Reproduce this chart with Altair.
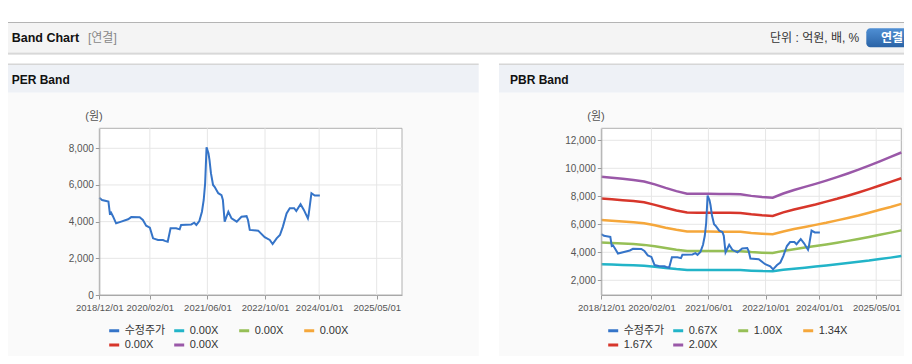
import altair as alt
import pandas as pd

FONT = "'Liberation Sans', 'Noto Sans CJK KR', sans-serif"

# ---------------- data ----------------
price_dates = [
    "2018-12-01", "2018-12-24", "2019-01-28", "2019-02-16", "2019-02-28", "2019-03-10",
    "2019-03-25", "2019-04-22", "2019-06-04", "2019-08-01", "2019-08-28", "2019-11-07",
    "2019-12-04", "2020-01-01", "2020-02-01", "2020-02-28", "2020-04-10", "2020-05-22",
    "2020-06-07", "2020-07-01", "2020-07-25", "2020-09-10", "2020-10-10", "2020-10-22",
    "2021-01-16", "2021-02-10", "2021-02-28", "2021-03-25", "2021-04-16", "2021-05-01",
    "2021-05-13", "2021-05-25", "2021-06-10", "2021-06-19", "2021-07-01", "2021-07-19",
    "2021-08-01", "2021-09-01", "2021-09-28", "2021-10-10", "2021-10-25", "2021-11-25",
    "2021-12-22", "2022-02-04", "2022-03-16", "2022-04-28", "2022-05-10", "2022-05-25",
    "2022-08-04", "2022-09-28", "2022-11-10", "2022-12-04", "2023-01-07", "2023-02-04",
    "2023-03-01", "2023-04-01", "2023-04-28", "2023-06-04", "2023-06-22", "2023-07-28",
    "2023-08-25", "2023-09-28", "2023-10-04", "2023-10-28", "2023-11-25", "2024-01-07",
]
price_values = [
    5300, 5180, 5130, 5100, 4450, 4500,
    4310, 3910, 4000, 4130, 4250, 4240,
    4090, 3780, 3670, 3090, 3000, 3000,
    2950, 2900, 3640, 3640, 3580, 3820,
    3850, 3940, 3820, 4030, 4540, 5180,
    6090, 8050, 7730, 7360, 6640, 6000,
    5900, 5550, 5450, 5180, 4000, 4540,
    4180, 4000, 4270, 4300, 4090, 3550,
    3510, 3150, 3000, 2780, 3090, 3270,
    3730, 4450, 4730, 4730, 4580, 4950,
    4640, 4180, 4360, 5550, 5420, 5420,
]

band_dates = [
    "2018-12-01", "2019-03-01", "2019-06-01", "2019-09-01", "2019-12-01", "2020-03-01",
    "2020-06-01", "2020-09-01", "2020-12-01", "2021-03-01", "2021-06-01", "2021-09-01",
    "2021-12-01", "2022-03-01", "2022-06-01", "2022-09-01", "2022-12-01", "2023-03-01",
    "2023-06-01", "2023-09-01", "2023-12-01", "2024-03-01", "2024-06-01", "2024-09-01",
    "2024-12-01", "2025-03-01", "2025-06-01", "2025-09-01", "2025-12-01",
]
band_067 = [3150, 3130, 3100, 3070, 3040, 2960, 2880, 2800, 2740, 2740, 2740, 2740, 2740, 2730,
            2690, 2660, 2650, 2750, 2830, 2900, 2980, 3060, 3140, 3230, 3320, 3410, 3520, 3620, 3730]
band_100 = [4700, 4665, 4625, 4585, 4530, 4425, 4300, 4185, 4095, 4090, 4090, 4085, 4085, 4075,
            4015, 3975, 3950, 4100, 4225, 4335, 4445, 4560, 4685, 4815, 4950, 5095, 5250, 5405, 5565]
band_134 = [6300, 6250, 6200, 6140, 6070, 5930, 5760, 5610, 5490, 5480, 5480, 5470, 5470, 5460,
            5380, 5330, 5290, 5490, 5660, 5810, 5960, 6110, 6280, 6450, 6630, 6830, 7040, 7240, 7460]
band_167 = [7850, 7790, 7720, 7660, 7570, 7390, 7180, 6990, 6840, 6830, 6830, 6820, 6820, 6810,
            6710, 6640, 6600, 6850, 7060, 7240, 7420, 7620, 7820, 8040, 8270, 8510, 8770, 9030, 9290]
band_200 = [9400, 9330, 9250, 9170, 9060, 8850, 8600, 8370, 8190, 8180, 8180, 8170, 8170, 8150,
            8030, 7950, 7900, 8200, 8450, 8670, 8890, 9120, 9370, 9630, 9900, 10190, 10500, 10810, 11130]

price_label = "수정주가"
pbr_band_labels = ["0.67X", "1.00X", "1.34X", "1.67X", "2.00X"]
per_band_keys = ["per_a", "per_b", "per_c", "per_d", "per_e"]
per_band_text = "0.00X"
series_colors = ["#3574c8", "#22b4c8", "#96bf56", "#f5a73b", "#d7362b", "#9a58a8"]

x_tick_dates = ["2018-12-01", "2020-02-01", "2021-06-01", "2022-10-01", "2024-01-01", "2025-05-01"]
x_domain = ["2018-12-01", "2025-12-01"]
per_y_ticks = [0, 2000, 4000, 6000, 8000]
per_y_domain = [0, 9090]
pbr_y_ticks = [2000, 4000, 6000, 8000, 10000, 12000]
pbr_y_domain = [950, 12857]

# ---------------- layout (chart px) ----------------
W, H = 896, 348
PLOT_TOP, PLOT_BOT = 120.3, 287
PER_L, PER_R = 91.3, 394
PBR_L, PBR_R = 593.3, 893.3


def dt(s):
    y, m, d = map(int, s.split("-"))
    return alt.DateTime(year=y, month=m, date=d, utc=True)


one = pd.DataFrame({"k": [0]})


def rect(x, x2, y, y2, fill, **kw):
    return alt.Chart(one).mark_rect(fill=fill, **kw).encode(
        x=alt.value(x), x2=alt.value(x2), y=alt.value(y), y2=alt.value(y2))


def text(t, x, y, size=12, color="#333333", weight="normal", align="left"):
    return alt.Chart(one).mark_text(
        text=t, align=align, baseline="middle", fontSize=size, color=color,
        fontWeight=weight, font=FONT).encode(x=alt.value(x), y=alt.value(y))


def panel(left, right, y_domain, y_ticks, color_domain, legend_x, label_expr, price_df, band_df=None):
    xs = alt.Scale(type="utc", domain=[dt(x_domain[0]), dt(x_domain[1])], range=[left, right], nice=False)
    ys = alt.Scale(domain=y_domain, range=[PLOT_BOT, PLOT_TOP], nice=False, zero=False)
    cs = alt.Scale(domain=color_domain, range=series_colors)
    x_axis = alt.Axis(orient="bottom", offset=PLOT_BOT - H, values=[dt(d) for d in x_tick_dates],
                      format="%Y/%m/%d", title=None, grid=False, labelFont=FONT, labelFontSize=9.5,
                      labelColor="#555555", tickSize=4, tickColor="#999999", domainColor="#a8a8a8",
                      labelPadding=3, labelOverlap=False, labelFlush=False, zindex=1)
    y_axis = alt.Axis(orient="left", offset=-left, values=y_ticks, format=",.0f", title=None, grid=False,
                      labelFont=FONT, labelFontSize=10, labelColor="#555555", tickSize=4,
                      tickColor="#999999", domainColor="#a8a8a8", labelPadding=2, zindex=1)
    leg_kw = dict(orient="none", legendX=legend_x, legendY=316, direction="horizontal", columns=4,
                  symbolType="stroke", symbolStrokeWidth=3, symbolSize=100, labelFontSize=11,
                  labelFont=FONT, labelColor="#333333", title=None, columnPadding=2, rowPadding=1.5,
                  gridAlign="all", labelOffset=4, padding=0)
    if label_expr:
        leg_kw["labelExpr"] = label_expr
    legend = alt.Legend(**leg_kw)

    gx = alt.Chart(pd.DataFrame({"date": x_tick_dates})).mark_rule(color="#e6e6e6", strokeWidth=1).encode(
        x=alt.X("date:T", scale=xs, axis=x_axis), y=alt.value(PLOT_TOP), y2=alt.value(PLOT_BOT))
    gy = alt.Chart(pd.DataFrame({"value": [v for v in y_ticks if v != y_domain[0]]})).mark_rule(
        color="#e6e6e6", strokeWidth=1).encode(
        y=alt.Y("value:Q", scale=ys, axis=y_axis), x=alt.value(left), x2=alt.value(right))
    layers = [gx, gy]
    if band_df is not None:
        layers.append(alt.Chart(band_df).mark_line(strokeWidth=2.5).encode(
            x=alt.X("date:T", scale=xs, axis=x_axis),
            y=alt.Y("value:Q", scale=ys, axis=y_axis),
            color=alt.Color("series:N", scale=cs, legend=legend)))
    layers.append(alt.Chart(price_df).mark_line(strokeWidth=2).encode(
        x=alt.X("date:T", scale=xs, axis=x_axis),
        y=alt.Y("value:Q", scale=ys, axis=y_axis),
        color=alt.Color("series:N", scale=cs, legend=legend)))
    return alt.layer(*layers)


price_df = pd.DataFrame({"date": price_dates, "value": price_values, "series": price_label})
band_df = pd.concat([
    pd.DataFrame({"date": band_dates, "value": vals, "series": lab})
    for lab, vals in zip(pbr_band_labels, [band_067, band_100, band_134, band_167, band_200])
], ignore_index=True)

per_panel = panel(PER_L, PER_R, per_y_domain, per_y_ticks, [price_label] + per_band_keys, 99.7,
                  f"datum.label == '{price_label}' ? datum.label : '{per_band_text}'", price_df)
pbr_panel = panel(PBR_L, PBR_R, pbr_y_domain, pbr_y_ticks, [price_label] + pbr_band_labels, 598.7,
                  None, price_df, band_df)

button_fill = alt.LinearGradient(
    gradient="linear", x1=0, x2=0, y1=0, y2=1,
    stops=[alt.GradientStop(offset=0, color="#4f8fd4"), alt.GradientStop(offset=1, color="#2a63a6")])

decor = [
    rect(0, W, 14, 15, "#b4b4b4"),
    rect(0, W, 15, 44.7, "#f4f4f4"),
    rect(0, W, 44.7, 45.7, "#c4c4c4"),
    rect(0, W, 45.7, 47, "#e6e6e6"),
    rect(0, 470.7, 55.5, 57, "#d6d6d6"),
    rect(0, 470.7, 57, 84.7, "#eef1f6"),
    rect(0, 470.7, 84.7, H, "#fafafa"),
    rect(491, W, 55.5, 57, "#d6d6d6"),
    rect(491, W, 57, 84.7, "#eef1f6"),
    rect(491, W, 84.7, H, "#fafafa"),
    rect(PER_L, PER_R, PLOT_TOP, PLOT_BOT, "#ffffff", stroke="#b0b0b0", strokeWidth=1),
    rect(PBR_L, PBR_R, PLOT_TOP, PLOT_BOT, "#ffffff", stroke="#b0b0b0", strokeWidth=1),
    alt.Chart(one).mark_rect(fill=button_fill, cornerRadius=4).encode(
        x=alt.value(858.3), x2=alt.value(904), y=alt.value(20.3), y2=alt.value(39.3)),
]

texts = [
    text("Band Chart", 3.7, 30, size=12.5, color="#111111", weight="bold"),
    text("[연결]", 80, 30, size=12, color="#888888"),
    text("단위 : 억원, 배, %", 851.3, 30, size=12, color="#333333", align="right"),
    text("연결", 884, 30, size=12, color="#ffffff", weight="bold", align="center"),
    text("PER Band", 3.7, 72, size=12, color="#111111", weight="bold"),
    text("PBR Band", 502, 72, size=12, color="#111111", weight="bold"),
    text("(원)", 86, 109, size=11, color="#555555", align="center"),
    text("(원)", 588, 109, size=11, color="#555555", align="center"),
]

chart = alt.layer(*decor, per_panel, pbr_panel, *texts).resolve_scale(
    x="independent", y="independent", color="independent"
).properties(
    width=W, height=H, autosize=alt.AutoSizeParams(type="none"), padding=0, background="#ffffff"
).configure_view(stroke="transparent")

chart.save("out.html", embed_options={"renderer": "svg", "actions": False})
